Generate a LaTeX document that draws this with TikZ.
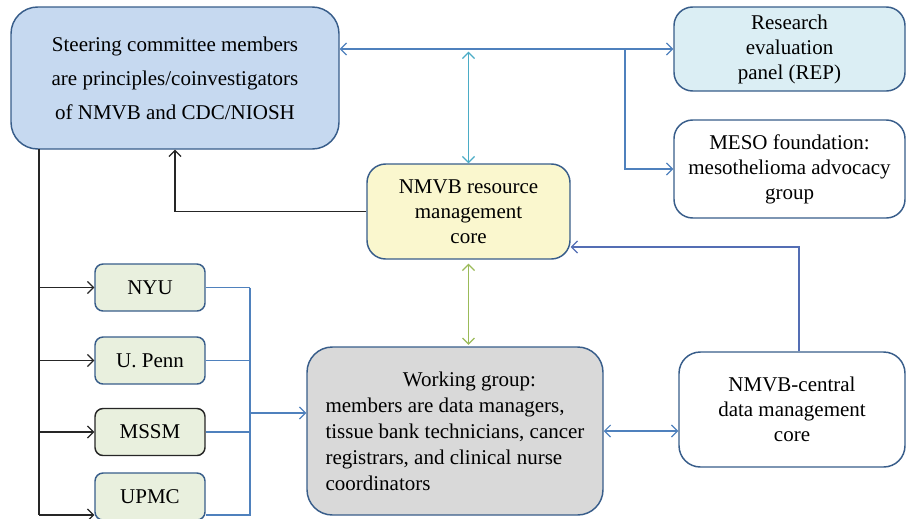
\documentclass[tikz,border=0pt]{standalone}
\usepackage{fontspec}
\setmainfont{Liberation Serif}
\usetikzlibrary{arrows.meta}

\definecolor{boxedge}{RGB}{56,93,138}
\definecolor{steerfill}{RGB}{198,217,240}
\definecolor{repfill}{RGB}{219,238,244}
\definecolor{corefill}{RGB}{250,247,206}
\definecolor{unifill}{RGB}{233,240,222}
\definecolor{wgfill}{RGB}{217,217,217}
\definecolor{blueline}{RGB}{79,129,189}
\definecolor{cyanline}{RGB}{75,172,198}
\definecolor{greenline}{RGB}{155,187,89}
\definecolor{coreline}{RGB}{84,110,180}

\begin{document}
\begin{tikzpicture}[x=0.75pt,y=0.75pt,yscale=-1,xscale=1,
    >={Straight Barb[length=4.5pt,width=9pt]},
    box/.style={draw=boxedge,line width=1.1pt,align=center,inner sep=0pt,font=\fontsize{15.75}{18.75}\selectfont},
    uni/.style={box,fill=unifill,rounded corners=6pt,minimum width=82.5pt,minimum height=35.25pt},
    bline/.style={draw=blueline,line width=0.9pt},
    kline/.style={draw=black!85,line width=0.9pt}]
    \useasboundingbox (0,0) rectangle (906,518);

    % Steering committee
    \node[box,fill=steerfill,rounded corners=20pt,minimum width=246pt,minimum height=106.5pt,font=\fontsize{15.75}{25.5}\selectfont] (steer) at (175,78) {Steering committee members\\are principles/coinvestigators\\of NMVB and CDC/NIOSH};

    % Right hand panels
    \node[box,fill=repfill,rounded corners=14pt,minimum width=173.25pt,minimum height=63pt] (rep) at (789.5,49) {Research\\evaluation\\panel (REP)};
    \node[box,fill=white,rounded corners=14pt,minimum width=173.25pt,minimum height=73.5pt] (meso) at (789.5,169) {MESO foundation:\\mesothelioma advocacy\\group};

    % Resource core
    \node[box,fill=corefill,rounded corners=14pt,minimum width=152.25pt,minimum height=71.25pt] (core) at (468.5,211.5) {NMVB resource\\management\\core};

    % Sites
    \node[uni] (nyu) at (150,287.5) {NYU};
    \node[uni] (penn) at (150,360.5) {U. Penn};
    \node[uni,draw=black!85] (mssm) at (150,432) {MSSM};
    \node[uni] (upmc) at (150,496.5) {UPMC};

    % Working group
    \node[box,fill=wgfill,rounded corners=19pt,minimum width=222pt,minimum height=126pt,align=left,font=\fontsize{15.75}{19.5}\selectfont] (wg) at (455,431) {\hspace*{58pt}Working group:\\members are data managers,\\tissue bank technicians, cancer\\registrars, and clinical nurse\\coordinators};

    % Central data core
    \node[box,fill=white,rounded corners=16pt,minimum width=169.5pt,minimum height=86.25pt] (central) at (792,409.5) {NMVB-central\\data management\\core};

    % Bends
    \coordinate (rbr) at (625,49);
    \coordinate (ktop) at (39,149);
    \coordinate (kbot) at (39,515);
    \coordinate (join) at (250,413);
    \coordinate (cup) at (799,247);

    % Top connectors
    \draw[bline,<->] (rep.west -| steer.east) -- (rep.west);
    \draw[bline,->] (rbr) |- (meso.west);
    \draw[<->,draw=cyanline,line width=0.9pt,shorten <=2pt] (core.north |- rep.west) -- (core.north);
    \draw[kline,->] (core.west) -| (steer.south);

    % Sites
    \draw[kline] (ktop) -- (kbot);
    \foreach \s in {nyu,penn,mssm}
        \draw[kline,->] (ktop |- \s.west) -- (\s.west);
    \draw[kline,->] (kbot) -- (kbot -| upmc.west);
    \foreach \s in {nyu,penn,mssm}
        \draw[bline] (\s.east) -- (\s.east -| join);
    \draw[bline] (nyu.east -| join) -- (join |- kbot) -- (kbot -| upmc.east);
    \draw[bline,->] (join) -- (join -| wg.west);

    % Lower connectors
    \draw[<->,draw=greenline,line width=0.9pt,shorten <=3pt,shorten >=1pt] (core.south) -- (core.south |- wg.north);
    \draw[bline,<->] (wg.east) -- (wg.east -| central.west);
    \draw[bline,draw=coreline,->] (cup |- central.north) -- (cup) -- (cup -| core.east);

\end{tikzpicture}
\end{document}
